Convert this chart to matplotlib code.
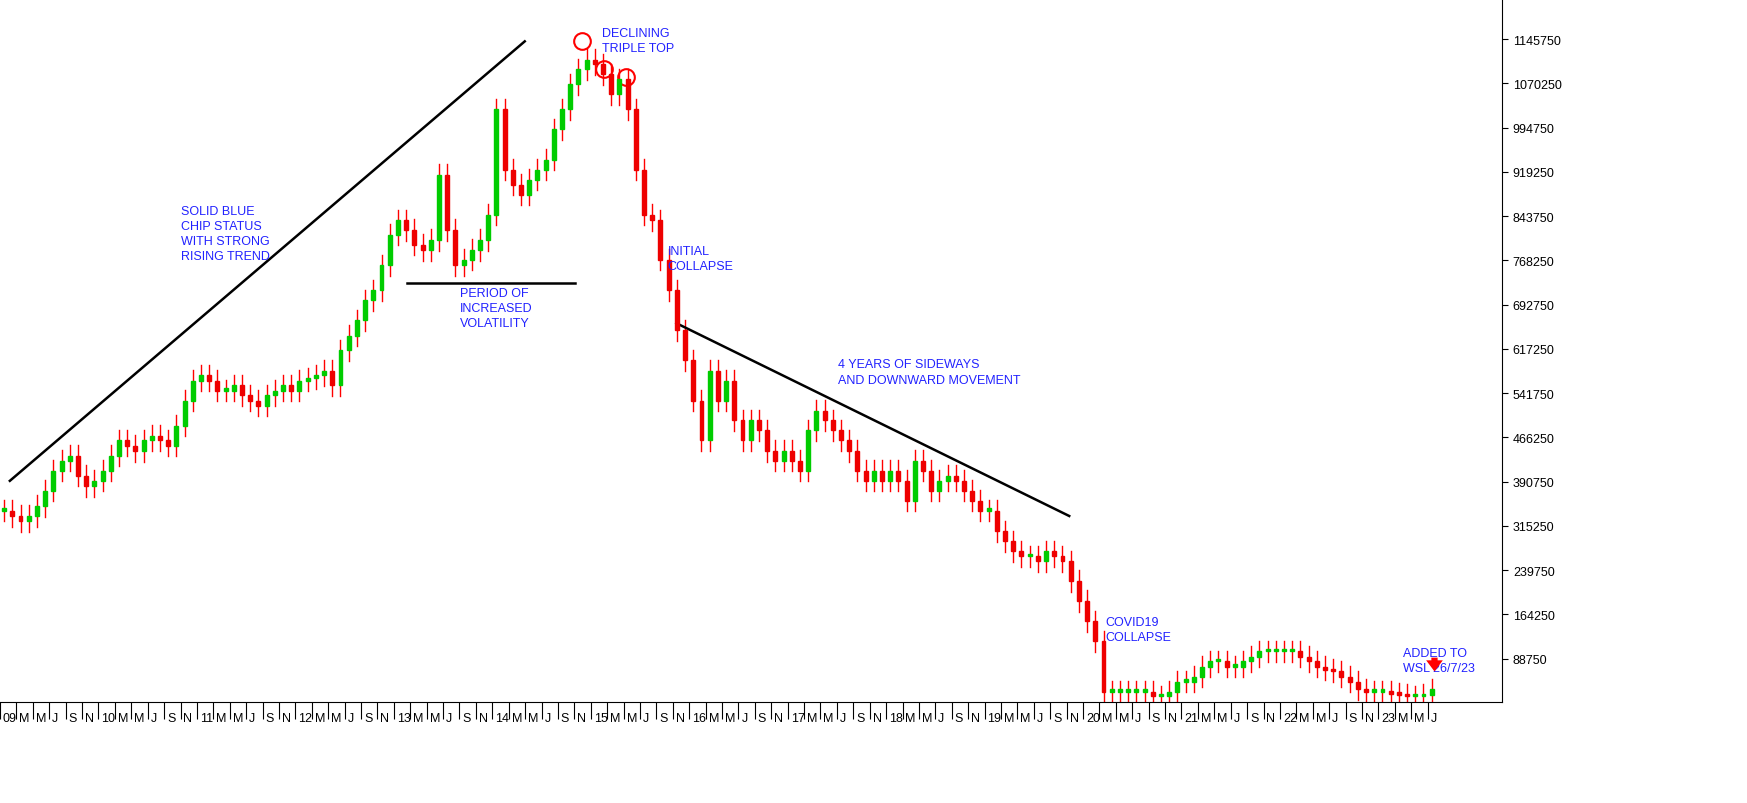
import numpy as np
import matplotlib
matplotlib.use("Agg")
import matplotlib.pyplot as plt
from matplotlib.patches import Rectangle

plt.rcParams['font.family'] = ['Liberation Sans', 'DejaVu Sans']

# monthly closes (thousands), Jan 2009 .. Jul 2023
years = list(range(2009, 2024))
closes = {
    2009: [341, 332, 323, 332, 349, 375, 409, 426, 435, 401, 383, 392],
    2010: [409, 435, 461, 452, 443, 461, 469, 461, 452, 486, 529, 563],
    2011: [572, 563, 546, 546, 555, 538, 529, 520, 538, 546, 555, 546],
    2012: [563, 567, 572, 580, 555, 615, 640, 666, 700, 717, 760, 812],
    2013: [837, 820, 795, 786, 803, 914, 820, 760, 769, 786, 803, 846],
    2014: [1026, 923, 897, 880, 906, 923, 940, 992, 1026, 1069, 1094, 1111],
    2015: [1103, 1086, 1052, 1077, 1026, 923, 846, 837, 769, 717, 649, 598],
    2016: [529, 461, 580, 529, 563, 495, 461, 495, 478, 443, 426, 443],
    2017: [426, 409, 478, 512, 495, 478, 461, 443, 409, 392, 409, 392],
    2018: [409, 392, 358, 426, 409, 375, 392, 401, 392, 375, 358, 341],
    2019: [341, 306, 289, 272, 263, 263, 255, 272, 263, 255, 221, 187],
    2020: [152, 118, 32, 32, 32, 32, 32, 32, 24, 24, 32, 49],
    2021: [49, 58, 75, 84, 84, 75, 75, 84, 92, 101, 101, 101],
    2022: [101, 101, 92, 84, 75, 70, 67, 58, 49, 36, 32, 32],
    2023: [32, 29, 27, 24, 24, 27, 36],
}

t, c = [], []
for y in years:
    for m, v in enumerate(closes[y]):
        t.append(y + (m + 0.5) / 12)
        c.append(v * 1000)
t = np.array(t)
c = np.array(c)
o = np.r_[c[0], c[:-1]]

fig = plt.figure(figsize=(17.47, 8.04), dpi=100)
ax = fig.add_axes([0.0, 0.126, 0.86, 0.874])

pad = 18000
for ti, oi, ci in zip(t, o, c):
    hi = max(oi, ci) + pad
    lo = min(oi, ci) - pad
    ax.plot([ti, ti], [lo, hi], color='red', lw=1.0, zorder=2)
    col = '#00cc00' if ci >= oi else '#ee0000'
    ax.add_patch(Rectangle((ti - 0.02, min(oi, ci)), 0.04, max(abs(ci - oi), 4000),
                           facecolor=col, edgecolor=col, zorder=3))

# trend lines
ax.plot([2009.10, 2014.33], [392000, 1142000], color='black', lw=1.8)
ax.plot([2013.13, 2014.84], [730000, 730000], color='black', lw=1.8)
ax.plot([2015.87, 2019.86], [661000, 332000], color='black', lw=1.8)

# triple top circles
ax.plot([2014.91, 2015.13, 2015.36], [1142000, 1094000, 1081000], 'o',
        ms=12, mfc='none', mec='red', mew=1.5)

blue = '#2222ff'
notes = [
    (2010.84, 863000, "SOLID BLUE\nCHIP STATUS\nWITH STRONG\nRISING TREND"),
    (2013.67, 723000, "PERIOD OF\nINCREASED\nVOLATILITY"),
    (2015.11, 1166000, "DECLINING\nTRIPLE TOP"),
    (2015.78, 795000, "INITIAL\nCOLLAPSE"),
    (2017.51, 601000, "4 YEARS OF SIDEWAYS\nAND DOWNWARD MOVEMENT"),
    (2020.23, 161000, "COVID19\nCOLLAPSE"),
    (2023.25, 109000, "ADDED TO\nWSL 26/7/23"),
]
for x, y, s in notes:
    ax.text(x, y, s, color=blue, fontsize=9, va='top', ha='left', linespacing=1.35)

ax.annotate('', xy=(2023.57, 62000), xytext=(2023.57, 95000),
            arrowprops=dict(arrowstyle='simple,head_width=1.2,head_length=0.8,tail_width=0.45',
                            color='red', lw=0))

ax.set_xlim(2009.0, 2024.26)
ax.set_ylim(15100, 1214270)

yt = np.arange(13250, 1214270, 75500)
ax.yaxis.tick_right()
ax.set_yticks(yt[1:])
ax.set_yticklabels([str(v) for v in yt[1:]], fontsize=9)
ax.tick_params(axis='y', length=4)

# month ticks every two months, labels right of tick
xt, xl = [], []
mnames = {0: None, 2: 'M', 4: 'M', 6: 'J', 8: 'S', 10: 'N'}
for y in range(2009, 2024):
    for m in range(0, 12, 2):
        pos = y + m / 12
        if pos > 2023.6:
            break
        xt.append(pos)
        xl.append(f"{y % 100:02d}" if m == 0 else mnames[m])
ax.set_xticks(xt)
ax.set_xticklabels([])
ax.tick_params(axis='x', length=12, direction='out')
for pos, lab in zip(xt, xl):
    ax.text(pos + 0.03, -0.015, lab, transform=ax.get_xaxis_transform(),
            fontsize=9, va='top', ha='left')

for s in ['top', 'left']:
    ax.spines[s].set_visible(False)

fig.savefig('out.png', dpi=100)
